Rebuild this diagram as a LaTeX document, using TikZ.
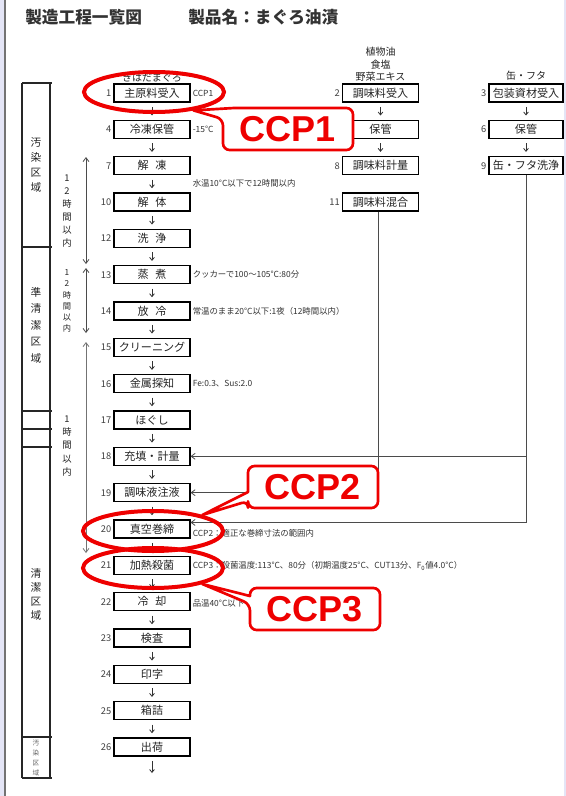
\documentclass[tikz,border=0pt]{standalone}
\usepackage{fontspec}
\setmainfont{Noto Sans CJK JP}
\newfontfamily\ccpfont{Liberation Sans}
\usetikzlibrary{arrows.meta,calc,shapes.geometric}
\definecolor{ccpred}{RGB}{238,0,0}
\definecolor{lav}{RGB}{228,229,246}
\definecolor{lin}{RGB}{75,75,75}
\definecolor{ink}{RGB}{35,35,35}
\newcommand\twosp[2]{#1\hspace{5pt}#2}
\tikzset{
 box/.style={draw=black, line width=0.8pt, fill=white, minimum width=57pt, minimum height=13.5pt, inner sep=0pt, text=ink, font=\fontsize{8.3}{8.3}\selectfont},
 rbox/.style={box, minimum width=55.5pt},
 num/.style={anchor=east, inner sep=1.5pt, text=black!75, font=\fontsize{7}{7}\selectfont},
 note/.style={anchor=west, inner sep=0pt, text=black!80, font=\fontsize{6.3}{6.3}\selectfont},
 hdr/.style={inner sep=0pt, text=ink, font=\fontsize{7.5}{7.5}\selectfont},
 flow/.style={draw=black!80, line width=0.6pt, -{Straight Barb[length=2.2pt,width=3.6pt]}, shorten <=3.2pt, shorten >=3.2pt},
 feed/.style={draw=lin, line width=0.6pt, -{Straight Barb[length=3pt,width=4.5pt]}},
 dblarr/.style={draw=lin, line width=0.6pt, {Straight Barb[length=3pt,width=4.5pt]}-{Straight Barb[length=3pt,width=4.5pt]}},
 zone/.style={draw=black!85, line width=0.8pt},
 vlab/.style={align=center, inner sep=0pt, text=ink},
 hl/.style={ellipse, draw=ccpred, line width=3pt, minimum width=105pt, minimum height=30pt, inner sep=0pt},
 ccpshape/.style={draw=ccpred, line width=2pt, fill=white, line join=round},
 ccptext/.style={inner sep=0pt, text=ccpred, font=\ccpfont\bfseries\fontsize{27}{27}\selectfont},
 ttl/.style={anchor=west, inner sep=0pt, text=black!80, font=\bfseries\fontsize{12.5}{12.5}\selectfont},
}
\begin{document}
\begin{tikzpicture}[x=0.75pt,y=-0.75pt]
\useasboundingbox (0,0) rectangle (566,796);
\fill[lav] (0,0) rectangle (566,796);
\fill[white] (5,0) rectangle (564,796);
\draw[black!55, line width=0.8pt] (5,0) -- (5,796);

% title
\node[ttl] (title1) at (25,17) {製造工程一覧図};
\node[ttl] (title2) at (188,17) {製品名：まぐろ油漬};

% zone column
\draw[zone] (22,83) -- (22,778);
\draw[zone] (50,83) -- (50,778);
\foreach \yy in {83,247,411,429,447,737,778} \draw[zone] (22,\yy) -- (52,\yy);
\node[vlab, font=\fontsize{8}{11.3}\selectfont] (z1) at (36,165) {汚\\染\\区\\域};
\node[vlab, font=\fontsize{8}{12.4}\selectfont] (z2) at (36,325) {準\\清\\潔\\区\\域};
\node[vlab, font=\fontsize{8}{10.5}\selectfont] (z3) at (36,594) {清\\潔\\区\\域};
\node[vlab, text=black!60, font=\fontsize{5}{7.5}\selectfont] (z4) at (36,758) {汚\\染\\区\\域};

% time limits
\node[vlab, font=\fontsize{7}{9.75}\selectfont] (t1) at (67,211) {1\\2\\時\\間\\以\\内};
\node[vlab, font=\fontsize{6.2}{8.4}\selectfont] (t2) at (67,301) {1\\2\\時\\間\\以\\内};
\node[vlab, font=\fontsize{7}{9.9}\selectfont] (t3) at (67,446) {1\\時\\間\\以\\内};
\coordinate (s1a) at (86,157); \coordinate (s1b) at (86,264);
\coordinate (s2a) at (86,268); \coordinate (s2b) at (86,333);
\coordinate (s3a) at (86,342); \coordinate (s3b) at (86,553);
\draw[dblarr] (s1a) -- (s1b);
\draw[dblarr] (s2a) -- (s2b);
\draw[dblarr, draw=black!55] (s3a) -- (s3b);

% main column
\node[hdr] (h0) at (152,78) {きはだまぐろ};
\foreach \n/\t/\yy in {1/主原料受入/93, 4/冷凍保管/129.3, 7/\twosp{解}{凍}/165.7, 10/\twosp{解}{体}/202,
  12/\twosp{洗}{浄}/238.3, 13/\twosp{蒸}{煮}/274.7, 14/\twosp{放}{冷}/311, 15/クリーニング/347.3,
  16/金属探知/383.7, 17/ほぐし/420, 18/充填・計量/456.3, 19/調味液注液/492.7, 20/真空巻締/529,
  21/加熱殺菌/565.3, 22/\twosp{冷}{却}/601.7, 23/検査/638, 24/印字/674.3, 25/箱詰/710.7, 26/出荷/747} {
  \node[box] (m\n) at (152,\yy) {\t};
  \node[num] (mn\n) at (m\n.west) {\n};
}
\foreach \a/\b in {1/4,4/7,7/10,10/12,12/13,13/14,14/15,15/16,16/17,17/18,18/19,19/20,20/21,21/22,22/23,23/24,24/25,25/26}
  \draw[flow] (m\a) -- (m\b);
\coordinate (mend) at (152,773);
\draw[flow, shorten >=0pt] (m26) -- (mend);

% seasoning column
\node[hdr] (h1a) at (380.5,52) {植物油};
\node[hdr] (h1b) at (380.5,64.5) {食塩};
\node[hdr] (h1c) at (380.5,77) {野菜エキス};
\node[box] (r2) at (380.5,93) {調味料受入};
\node[num] (rn2) at (r2.west) {2};
\node[box] (r5) at (380.5,129.3) {保管};
\node[box] (r8) at (380.5,165.7) {調味料計量};
\node[num] (rn8) at (r8.west) {8};
\node[box] (r11) at (380.5,202) {調味料混合};
\node[num] (rn11) at (r11.west) {11};
\draw[flow] (r2) -- (r5);
\draw[flow] (r5) -- (r8);

% can column
\node[hdr] (h2) at (526,76) {缶・フタ};
\node[rbox] (r3) at (526,93) {包装資材受入};
\node[num] (rn3) at (r3.west) {3};
\node[rbox] (r6) at (526,129.3) {保管};
\node[num] (rn6) at (r6.west) {6};
\node[rbox] (r9) at (526,165.7) {缶・フタ洗浄};
\node[num] (rn9) at (r9.west) {9};
\draw[flow] (r3) -- (r6);
\draw[flow] (r6) -- (r9);

% feed lines
\coordinate (f11) at ($(r11.south)+(-2.5,0)$);
\draw[feed] (f11) -- (f11 |- m19.east) -- (m19.east);
\coordinate (f9) at (r9.south);
\coordinate (k20) at ($(m20.north east)+(0,3)$);
\draw[feed] (f9) -- (f9 |- k20) -- (k20);
\draw[feed] (f9 |- m18.east) -- (m18.east);

% notes
\node[note] (n1) at (192.5,93) {CCP1};
\node[note] (n4) at (192.5,129.3) {-15°C};
\node[note] (n7) at (192.5,183.5) {水温10°C以下で12時間以内};
\node[note] (n13) at (192.5,274.7) {クッカーで100～105°C:80分};
\node[note] (n14) at (192.5,311) {常温のまま20°C以下:1夜（12時間以内）};
\node[note] (n16) at (192.5,383.7) {Fe:0.3、Sus:2.0};
\node[note] (n20) at (192.5,533) {CCP2：適正な巻締寸法の範囲内};
\node[note] (n21) at (192.5,566) {CCP3：殺菌温度:113°C、80分（初期温度25°C、CUT13分、F\textsubscript{0}値4.0°C）};
\node[note] (n22) at (192.5,603) {品温40°C以下};

% highlights
\node[hl] (e1) at (154,92) {};
\node[hl] (e2) at (153,531) {};
\node[hl] (e3) at (153,568) {};
\coordinate (p1) at (e1.-25);
\coordinate (p2) at (e2.18);
\coordinate (p3) at (e3.-18);

% callouts
\draw[ccpshape] (234,108) [rounded corners=5pt] -- (353,108) -- (353,150) -- (223,150) -- (223,119) [sharp corners] -- (p1) -- cycle;
\node[ccptext] (cc1) at (288,129) {CCP1};
\draw[ccpshape] (248,492) [rounded corners=5pt] -- (248,466) -- (378,466) -- (378,508) -- (248,508) -- (248,501) [sharp corners] -- (p2) -- cycle;
\node[ccptext] (cc2) at (313,487) {CCP2};
\draw[ccpshape] (250,596) [rounded corners=5pt] -- (250,588) -- (380,588) -- (380,630) -- (250,630) -- (250,604) [sharp corners] -- (p3) -- cycle;
\node[ccptext] (cc3) at (315,609) {CCP3};
\end{tikzpicture}
\end{document}
